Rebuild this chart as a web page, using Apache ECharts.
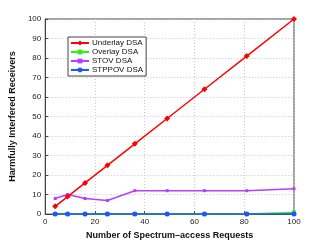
<!DOCTYPE html>
<html><head><meta charset="utf-8">
<script src="https://cdn.jsdelivr.net/npm/echarts@6/dist/echarts.min.js"></script>
<style>html,body{margin:0;padding:0;background:#fff}#c{width:324px;height:245px}</style>
</head><body><div id="c"></div>
<script>
var requests = [4, 9, 16, 25, 36, 49, 64, 81, 100];
var underlay = [4, 9, 16, 25, 36, 49, 64, 81, 100];
var overlay = [0, 0, 0, 0, 0, 0, 0, 0, 0.8];
var stov = [8, 10, 8, 7, 12, 12, 12, 12, 13];
var stppov = [0, 0, 0, 0, 0, 0, 0, 0, 0];
var seriesNames = ['Underlay DSA', 'Overlay DSA', 'STOV DSA', 'STPPOV DSA'];
var xTicks = [0, 20, 40, 60, 80, 100];
var yTicks = [0, 10, 20, 30, 40, 50, 60, 70, 80, 90, 100];

function pairs(v){ return requests.map(function(x,i){return [x, v[i]];}); }
var font = 'Liberation Sans, Arial, sans-serif';
var chart = echarts.init(document.getElementById('c'));
var axisCommon = {
  axisLine:{show:true, lineStyle:{color:'#444', width:1}},
  axisTick:{show:true, inside:true, length:3, lineStyle:{color:'#444'}},
  axisLabel:{color:'#222', fontSize:8, fontFamily:font, margin:4},
  splitLine:{show:true, lineStyle:{color:'#c8c8c8', type:[1,2], width:1}}
};
chart.setOption({
  animation:false,
  grid:{left:42, right:30, top:19, bottom:28, show:true, borderColor:'#444', borderWidth:1},
  xAxis:Object.assign({type:'value', min:xTicks[0], max:xTicks[xTicks.length-1], interval:20,
    name:'Number of Spectrum\u2013access Requests', nameLocation:'middle', nameGap:10,
    nameTextStyle:{fontWeight:'bold', fontSize:9, color:'#111', fontFamily:font}}, axisCommon),
  yAxis:Object.assign({type:'value', min:yTicks[0], max:yTicks[yTicks.length-1], interval:10,
    name:'Harmfully Interfered Receivers', nameLocation:'middle', nameGap:21,
    nameTextStyle:{fontWeight:'bold', fontSize:9, color:'#111', fontFamily:font}}, axisCommon),
  legend:{
    left:68, top:37, orient:'vertical', itemGap:1, itemWidth:18, itemHeight:6,
    padding:[2,3,2,2], borderColor:'#444', borderWidth:1, backgroundColor:'#fff',
    textStyle:{fontSize:8, fontFamily:font, color:'#111', padding:[0,0,0,-2]},
    data:seriesNames
  },
  series:[
    {name:seriesNames[0], type:'line', data:pairs(underlay), color:'#ff0000', symbol:'diamond', symbolSize:6, lineStyle:{width:1.5}, z:4},
    {name:seriesNames[1], type:'line', data:pairs(overlay), color:'#33ee11', symbol:'rect', symbolSize:4, lineStyle:{width:1.5}, z:2},
    {name:seriesNames[2], type:'line', data:pairs(stov), color:'#b340ff', symbol:'rect', symbolSize:3, lineStyle:{width:1.5}, z:3},
    {name:seriesNames[3], type:'line', data:pairs(stppov), color:'#1f55ff', symbol:'circle', symbolSize:5, lineStyle:{width:1.5}, z:3}
  ]
});
</script></body></html>
